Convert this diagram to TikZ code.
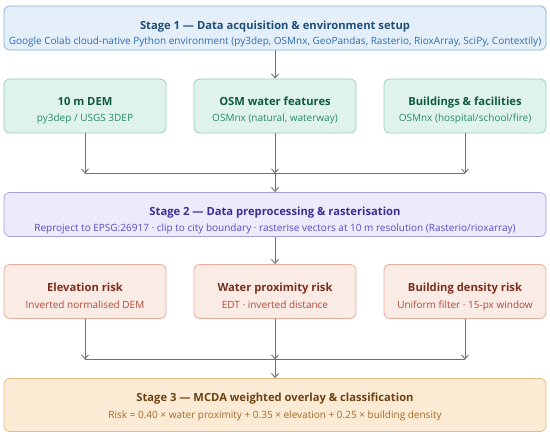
\documentclass[tikz,border=0pt]{standalone}
\usepackage{fontspec}
\setmainfont{Open Sans}
\usetikzlibrary{arrows.meta}
\definecolor{bF}{HTML}{E4EFFA}\definecolor{bD}{HTML}{86AEDC}\definecolor{bT}{HTML}{1F4E79}\definecolor{bS}{HTML}{2E6DB4}
\definecolor{gF}{HTML}{DFF3EB}\definecolor{gD}{HTML}{93D2B8}\definecolor{gT}{HTML}{0F5A42}\definecolor{gS}{HTML}{2A8A66}
\definecolor{pF}{HTML}{ECEBFB}\definecolor{pD}{HTML}{A59FE2}\definecolor{pT}{HTML}{3B2E96}\definecolor{pS}{HTML}{5A4BC2}
\definecolor{rF}{HTML}{FBEBE5}\definecolor{rD}{HTML}{E5AC9C}\definecolor{rT}{HTML}{7A2E1E}\definecolor{rS}{HTML}{B04A3A}
\definecolor{oF}{HTML}{FCEBD4}\definecolor{oD}{HTML}{E2BC86}\definecolor{oT}{HTML}{6B4214}\definecolor{oS}{HTML}{A06A28}
\definecolor{ln}{HTML}{707070}
\tikzset{
  box/.style={draw, line width=0.8pt, rounded corners=6pt, inner sep=0pt},
  stagebox/.style={box, minimum width=542pt, minimum height=44pt},
  smallbox/.style={box, minimum width=162pt, minimum height=54pt},
  ttl/.style={font=\bfseries\fontsize{11.2}{13}\selectfont, inner sep=0pt, anchor=base},
  sub/.style={font=\fontsize{10}{12}\selectfont, inner sep=0pt, anchor=base},
  conn/.style={draw=ln, line width=0.9pt},
  arr/.style={conn, -{Straight Barb[length=4pt,width=7pt]}},
}
\begin{document}
\begin{tikzpicture}[x=1pt,y=-1pt]
\useasboundingbox (0,0) rectangle (550,434);
% Stage 1
\node[stagebox, fill=bF, draw=bD] (s1) at (275,28) {};
\node[ttl, text=bT] (s1t) at (275,29) {Stage 1 — Data acquisition \& environment setup};
\node[sub, text=bS] (s1s) at (275,44.5) {Google Colab cloud-native Python environment (py3dep, OSMnx, GeoPandas, Rasterio, RioxArray, SciPy, Contextily)};
% Row 2
\node[smallbox, fill=gF, draw=gD] (g1) at (85,106) {};
\node[smallbox, fill=gF, draw=gD] (g2) at (275,106) {};
\node[smallbox, fill=gF, draw=gD] (g3) at (465,106) {};
\node[ttl, text=gT] (g1t) at (85,105) {10 m DEM};
\node[sub, text=gS] (g1s) at (85,121) {py3dep / USGS 3DEP};
\node[ttl, text=gT] (g2t) at (275,105) {OSM water features};
\node[sub, text=gS] (g2s) at (275,121) {OSMnx (natural, waterway)};
\node[ttl, text=gT] (g3t) at (465,105) {Buildings \& facilities};
\node[sub, text=gS] (g3s) at (465,121) {OSMnx (hospital/school/fire)};
% Stage 2
\node[stagebox, fill=pF, draw=pD] (s2) at (275,214.5) {};
\node[ttl, text=pT] (s2t) at (275,215) {Stage 2 — Data preprocessing \& rasterisation};
\node[sub, text=pS] (s2s) at (275,231) {Reproject to EPSG:26917 · clip to city boundary · rasterise vectors at 10 m resolution (Rasterio/rioxarray)};
% Row 4
\node[smallbox, fill=rF, draw=rD] (r1) at (85,291.5) {};
\node[smallbox, fill=rF, draw=rD] (r2) at (275,291.5) {};
\node[smallbox, fill=rF, draw=rD] (r3) at (465,291.5) {};
\node[ttl, text=rT] (r1t) at (85,291) {Elevation risk};
\node[sub, text=rS] (r1s) at (85,308) {Inverted normalised DEM};
\node[ttl, text=rT] (r2t) at (275,291) {Water proximity risk};
\node[sub, text=rS] (r2s) at (275,308) {EDT · inverted distance};
\node[ttl, text=rT] (r3t) at (465,291) {Building density risk};
\node[sub, text=rS] (r3s) at (465,308) {Uniform filter · 15-px window};
% Stage 3
\node[stagebox, fill=oF, draw=oD, minimum height=53pt] (s3) at (275,405) {};
\node[ttl, text=oT] (s3t) at (275,401) {Stage 3 — MCDA weighted overlay \& classification};
\node[sub, text=oS] (s3s) at (275,418) {Risk = 0.40 × water proximity + 0.35 × elevation + 0.25 × building density};
% connectors
\coordinate (m1) at (275,173.5);
\coordinate (m2) at (275,359.5);
\draw[arr] (s1.south) -- (g2.north);
\draw[arr] (g1.south) -- (g1.south |- m1);
\draw[arr] (g2.south) -- (m1);
\draw[arr] (g3.south) -- (g3.south |- m1);
\draw[conn] (g1.south |- m1) -- (g3.south |- m1);
\draw[arr] (m1) -- (s2.north);
\draw[arr] (s2.south) -- (r2.north);
\draw[arr] (r1.south) -- (r1.south |- m2);
\draw[arr] (r2.south) -- (m2);
\draw[arr] (r3.south) -- (r3.south |- m2);
\draw[conn] (r1.south |- m2) -- (r3.south |- m2);
\draw[arr] (m2) -- (s3.north);
\end{tikzpicture}
\end{document}
